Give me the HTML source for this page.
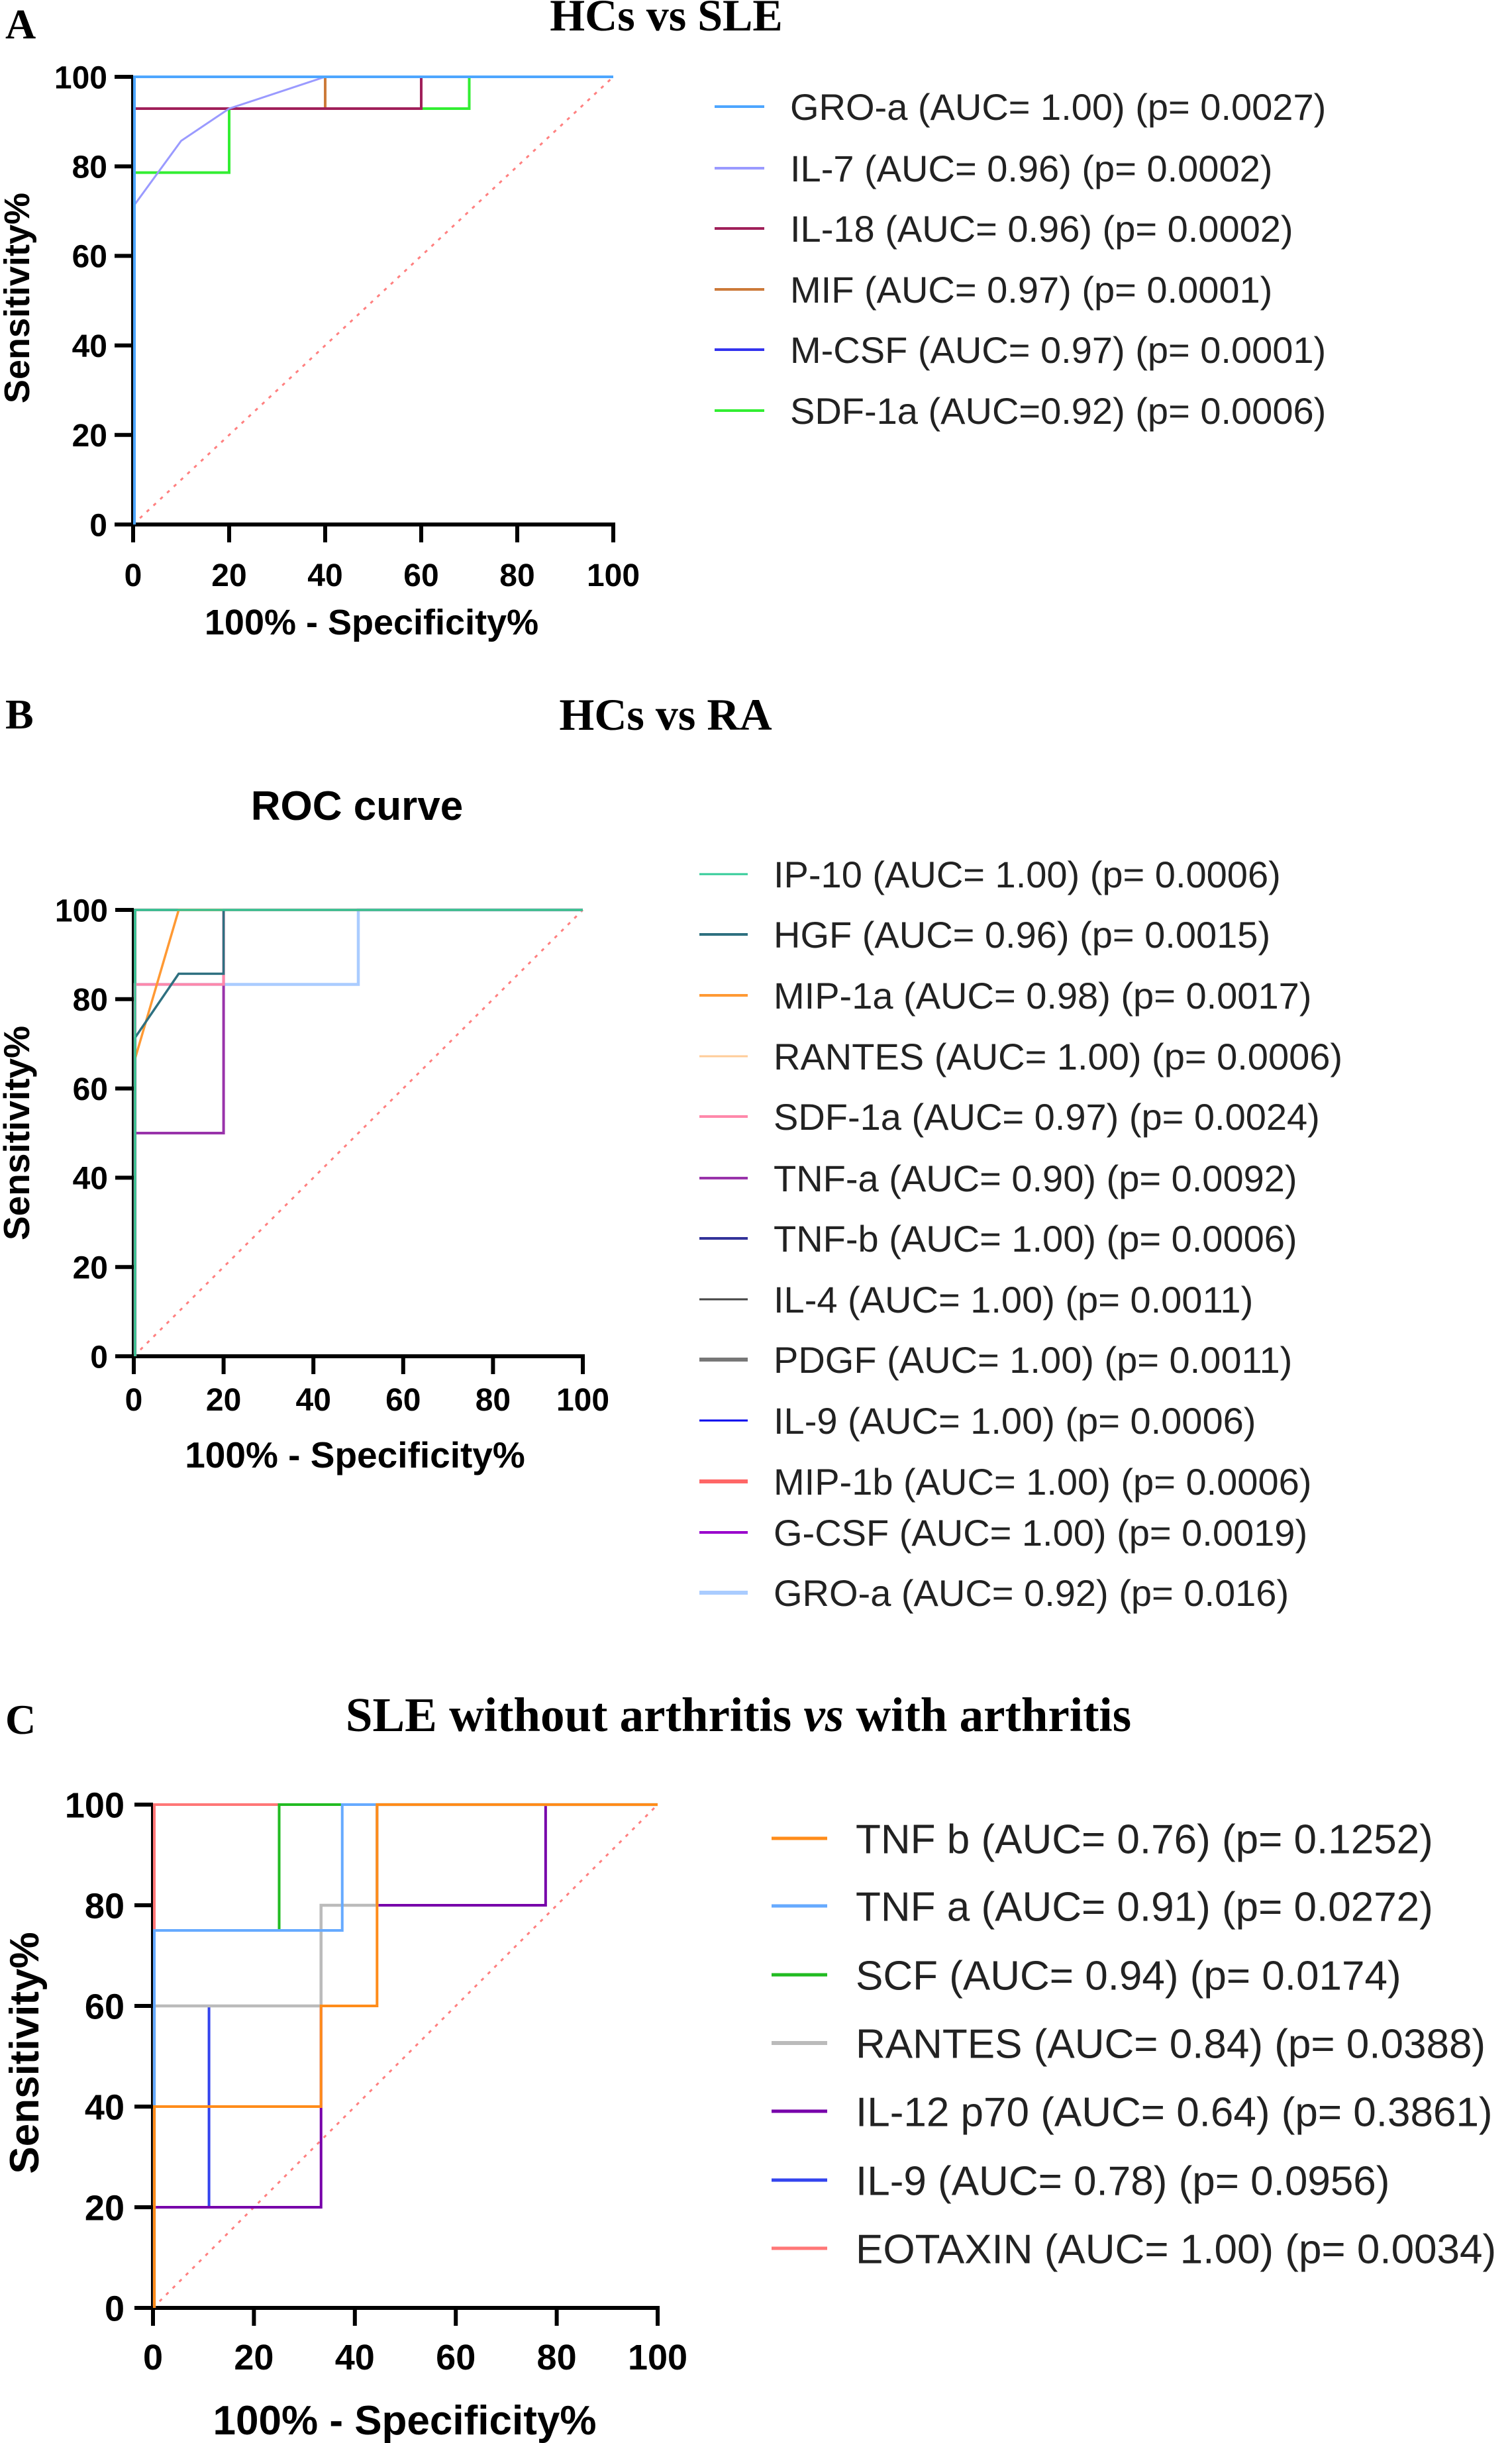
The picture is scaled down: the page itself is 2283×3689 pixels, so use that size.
<!DOCTYPE html>
<html><head><meta charset="utf-8"><style>
html,body{margin:0;padding:0;background:#fff;}
svg{display:block;}
text{font-family:"Liberation Sans",Arial,sans-serif;}
.serif{font-family:"Liberation Serif","Times New Roman",serif;font-weight:bold;}
.tick{font-weight:bold;fill:#000;}
.leg{fill:#222;}
</style></head><body>
<svg id="fig" width="2283" height="3689" viewBox="0 0 2283 3689" xmlns="http://www.w3.org/2000/svg">
<rect width="2283" height="3689" fill="#fff"/>
<text class="serif" x="8" y="58" font-size="64">A</text>
<text class="serif" x="1006" y="46" font-size="68" text-anchor="middle">HCs vs SLE</text>
<text class="serif" x="8" y="1100" font-size="64">B</text>
<text class="serif" x="1005" y="1102" font-size="68" text-anchor="middle">HCs vs RA</text>
<text x="539" y="1238" font-size="62" font-weight="bold" text-anchor="middle">ROC curve</text>
<text class="serif" x="8" y="2618" font-size="64">C</text>
<text class="serif" x="1115" y="2614" font-size="73" text-anchor="middle">SLE without arthritis <tspan font-style="italic">vs</tspan> with arthritis</text>
</svg>
<script>
// ---------- Panel A data ----------
const namesA = ["GRO-a (AUC= 1.00) (p= 0.0027)","IL-7 (AUC= 0.96) (p= 0.0002)","IL-18 (AUC= 0.96) (p= 0.0002)","MIF (AUC= 0.97) (p= 0.0001)","M-CSF (AUC= 0.97) (p= 0.0001)","SDF-1a (AUC=0.92) (p= 0.0006)"];
const colorsA = ["#4da6ff","#9a9aff","#a0205a","#cc7a3a","#3333ee","#33ee33"];
const fprA = [[0,0,100],[0,0,10,20,40,100],[0,0,60,60,100],[0,0,40,40,100],[0,0,40,40,100],[0,0,20,20,70,70,100]];
const tprA = [[0,100,100],[0,71.4,85.7,92.9,100,100],[0,92.9,92.9,100,100],[0,92.9,92.9,100,100],[0,92.9,92.9,100,100],[0,78.6,78.6,92.9,92.9,100,100]];
// ---------- Panel B data ----------
const namesB = ["IP-10 (AUC= 1.00) (p= 0.0006)","HGF (AUC= 0.96) (p= 0.0015)","MIP-1a (AUC= 0.98) (p= 0.0017)","RANTES (AUC= 1.00) (p= 0.0006)","SDF-1a (AUC= 0.97) (p= 0.0024)","TNF-a (AUC= 0.90) (p= 0.0092)","TNF-b (AUC= 1.00) (p= 0.0006)","IL-4 (AUC= 1.00) (p= 0.0011)","PDGF (AUC= 1.00) (p= 0.0011)","IL-9 (AUC= 1.00) (p= 0.0006)","MIP-1b (AUC= 1.00) (p= 0.0006)","G-CSF (AUC= 1.00) (p= 0.0019)","GRO-a (AUC= 0.92) (p= 0.016)"];
const colorsB = ["#33cc99","#2e7080","#ff9933","#ffcc99","#ff88aa","#9933aa","#333399","#444444","#777777","#0000ee","#ff6666","#9900cc","#aaccff"];
const fprB = [[0,0,100],[0,0,10,20,20,100],[0,0,10,100],[0,0,100],[0,0,20,20,100],[0,0,20,20,100],[0,0,100],[0,0,100],[0,0,100],[0,0,100],[0,0,100],[0,0,100],[0,0,50,50,100]];
const tprB = [[0,100,100],[0,71.4,85.7,85.7,100,100],[0,66.7,100,100],[0,100,100],[0,83.3,83.3,100,100],[0,50,50,100,100],[0,100,100],[0,100,100],[0,100,100],[0,100,100],[0,100,100],[0,100,100],[0,83.3,83.3,100,100]];
// ---------- Panel C data ----------
const namesC = ["TNF b (AUC= 0.76) (p= 0.1252)","TNF a (AUC= 0.91) (p= 0.0272)","SCF (AUC= 0.94) (p= 0.0174)","RANTES (AUC= 0.84) (p= 0.0388)","IL-12 p70 (AUC= 0.64) (p= 0.3861)","IL-9 (AUC= 0.78) (p= 0.0956)","EOTAXIN (AUC= 1.00) (p= 0.0034)"];
const colorsC = ["#ff8c1a","#66aaff","#22bb22","#bbbbbb","#7700aa","#3344ee","#ff7777"];
const fprC = [[0,0,33.3,33.3,44.4,44.4,100],[0,0,37.5,37.5,100],[0,0,25,25,100],[0,0,33.3,33.3,44.4,44.4,100],[0,0,33.3,33.3,77.8,77.8,100],[0,0,11.1,11.1,33.3,33.3,44.4,44.4,100],[0,0,100]];
const tprC = [[0,40,40,60,60,100,100],[0,75,75,100,100],[0,75,75,100,100],[0,60,60,80,80,100,100],[0,20,20,80,80,100,100],[0,20,20,60,60,80,80,100,100],[0,100,100]];
const ticks = [0,20,40,60,80,100];

const NS = "http://www.w3.org/2000/svg";
const svg = document.getElementById('fig');
function mk(tag, attrs, parent){ const e=document.createElementNS(NS,tag); for(const k in attrs) e.setAttribute(k,attrs[k]); (parent||svg).appendChild(e); return e; }

function panel(p){
  const g = mk('g',{});
  
  
  const sx = v => p.x0 + (p.x1-p.x0)*v/100;
  const sy = v => p.y0 - (p.y0-p.y1)*v/100;
  const d = mk('line',{x1:sx(0),y1:sy(0),x2:sx(100),y2:sy(100),stroke:'#ff8080','stroke-width':3,'stroke-dasharray':'5 9'},g);
  
  
  // axes first so curves at x=0 show on top
  const ax = mk('path',{d:`M${sx(0)} ${sy(100)-2} L${sx(0)} ${sy(0)} L${sx(100)+3} ${sy(0)}`,fill:'none',stroke:'#000','stroke-width':6},g);
  
  
  for(let i=p.names.length-1;i>=0;i--){
    const pts = p.fx[i].map((v,j)=>(sx(v)+(v===0?2:0))+','+sy(p.ty[i][j])).join(' ');
    const pl = mk('polyline',{points:pts,fill:'none',stroke:p.colors[i],'stroke-width':p.sw[i]||3.5},g);
    
    
  }
  ticks.forEach(t=>{
    mk('line',{x1:sx(0)-28,y1:sy(t),x2:sx(0),y2:sy(t),stroke:'#000','stroke-width':6},g);
    mk('line',{x1:sx(t),y1:sy(0),x2:sx(t),y2:sy(0)+27,stroke:'#000','stroke-width':6},g);
    const yl = mk('text',{x:p.ylx,y:sy(t)+p.fs*0.36,'font-size':p.fs,'text-anchor':'end',class:'tick'},g);
    yl.textContent = t;
    
    
    const xl = mk('text',{x:sx(t),y:p.xly,'font-size':p.fs,'text-anchor':'middle',class:'tick'},g);
    xl.textContent = t;
    
    
  });
  const xt = mk('text',{x:p.xtx,y:p.xty,'font-size':p.tfs,'text-anchor':'middle',class:'tick'},g);
  xt.textContent = '100% - Specificity%';
  
  
  const yt = mk('text',{x:0,y:0,'font-size':p.tfs,'text-anchor':'middle',class:'tick',transform:`translate(${p.ytx},${p.yty}) rotate(-90)`},g);
  yt.textContent = 'Sensitivity%';
  
  
  p.names.forEach((n,i)=>{
    const y = p.ly[i];
    const ll = mk('line',{x1:p.lx0,y1:y,x2:p.lx1,y2:y,stroke:p.colors[i],'stroke-width':p.lsw[i]||4},g);
    
    
    const lt = mk('text',{x:p.ltx,y:y+p.lfs*0.36,'font-size':p.lfs,class:'leg'},g);
    lt.textContent = n;
    
    
  });
}

panel({id:'panel-a',names:namesA,colors:colorsA,fx:fprA,ty:tprA,sw:[4,3,4,4,4,4],
  x0:201,x1:926,y0:792,y1:116,ylx:162,xly:885,fs:48,tfs:54,xtx:561,xty:958,ytx:44,yty:450,
  lx0:1079,lx1:1154,ltx:1193,lfs:56,ly:[161,254,345,437,528,620],lsw:[]});
panel({id:'panel-b',names:namesB,colors:colorsB,fx:fprB,ty:tprB,sw:[3,3.5,3.5,3,4,4,3,3,4,3,4,3,4.5],
  x0:202,x1:880,y0:2048,y1:1374,ylx:163,xly:2130,fs:48,tfs:55,xtx:536,xty:2216,ytx:44,yty:1711,
  lx0:1056,lx1:1129,ltx:1168,lfs:56,ly:[1320,1411,1503,1595,1686,1779,1870,1962,2053,2145,2237,2314,2405],lsw:[3,4,4,3,4,4,4,3,6,3,6,4,6]});
panel({id:'panel-c',names:namesC,colors:colorsC,fx:fprC,ty:tprC,sw:[4,4,4,4.5,4,4,4],
  x0:231,x1:993,y0:3485,y1:2725,ylx:188,xly:3578,fs:54,tfs:62,xtx:611,xty:3676,ytx:58,yty:3100,
  lx0:1165,lx1:1249,ltx:1292,lfs:62,ly:[2776,2878,2982,3085,3188,3292,3395],lsw:[5,5,5,6,5,5,5]});
</script>
</body></html>
